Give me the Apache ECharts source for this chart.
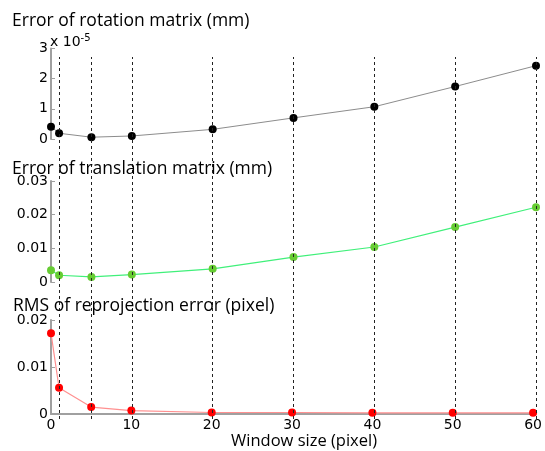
<!DOCTYPE html>
<html>
<head>
<meta charset="utf-8">
<script src="https://cdn.jsdelivr.net/npm/echarts@6/dist/echarts.min.js"></script>
<style>
html,body{margin:0;padding:0;background:#fff;}
#chart{width:545px;height:451px;}
</style>
</head>
<body>
<div id="chart"></div>
<script>
// ---- data ----
var windowSizes = [0, 1, 5, 10, 20, 30, 40, 50, 60];
var rotationErr = [0.41e-5, 0.19e-5, 0.06e-5, 0.10e-5, 0.32e-5, 0.70e-5, 1.07e-5, 1.74e-5, 2.43e-5];
var translationErr = [0.0035, 0.0020, 0.0015, 0.0022, 0.0039, 0.0074, 0.0104, 0.0163, 0.0222];
var rmsReproj = [0.0172, 0.0056, 0.0015, 0.00075, 0.00034, 0.00034, 0.00027, 0.00027, 0.00027];
var guideLinesX = [1, 5, 10, 20, 30, 40, 50, 60];
var panelTitles = ['Error of rotation matrix (mm)', 'Error of translation matrix (mm)', 'RMS of reprojection error (pixel)'];
var xTickLabels = ['0', '10', '20', '30', '40', '50', '60'];
var xAxisName = 'Window size (pixel)';
var rotTicks = ['0', '1', '2', '3'];
var transTicks = ['0', '0.01', '0.02', '0.03'];
var rmsTicks = ['0', '0.01', '0.02'];

function pairs(vals) { return windowSizes.map(function (x, i) { return [x, vals[i]]; }); }

var tickFont = { fontFamily: 'DejaVu Sans', fontSize: 14, color: '#000' };
var axisGray = '#a0a0a0';

function yAxisCfg(gi, max, interval, labels, extra) {
  var cfg = {
    type: 'value', gridIndex: gi, min: 0, max: max, interval: interval,
    axisLine: { show: true, lineStyle: { color: axisGray, width: 2 } },
    axisTick: { show: true, inside: true, length: 4, lineStyle: { color: axisGray } },
    splitLine: { show: false },
    axisLabel: Object.assign({ margin: 3, formatter: function (v) { return labels[Math.round(v / interval)]; } }, tickFont)
  };
  return Object.assign(cfg, extra || {});
}
function xAxisCfg(gi, showAll) {
  return {
    type: 'value', gridIndex: gi, min: 0, max: 60, interval: 10,
    axisLine: { show: showAll, lineStyle: { color: axisGray, width: 2 } },
    axisTick: { show: false },
    splitLine: { show: false },
    axisLabel: Object.assign({ show: showAll, margin: 4, formatter: function (v) { return xTickLabels[v / 10]; } }, tickFont),
    name: showAll ? xAxisName : '',
    nameLocation: 'middle', nameGap: 12,
    nameTextStyle: { fontFamily: 'Open Sans', fontSize: 16.5, color: '#000', padding: [0, 0, 0, 24] }
  };
}

var titleStyle = { fontFamily: 'Open Sans', fontSize: 17.5, fontWeight: 'normal', color: '#000' };

var option = {
  backgroundColor: '#fff',
  animation: false,
  title: [
    { text: panelTitles[0], left: 8, top: 8, textStyle: titleStyle, padding: 4 },
    { text: panelTitles[1], left: 8, top: 156, textStyle: titleStyle, padding: 4 },
    { text: panelTitles[2], left: 9, top: 293, textStyle: titleStyle, padding: 4 }
  ],
  grid: [
    { left: 51, right: 9, top: 48.5, height: 90.5 },
    { left: 51, right: 9, top: 181, height: 101 },
    { left: 51, right: 9, top: 320, height: 99 },
    { left: 51, right: 9, top: 57, height: 362 }
  ],
  xAxis: [xAxisCfg(0, false), xAxisCfg(1, false), xAxisCfg(2, true), xAxisCfg(3, false)],
  yAxis: [
    yAxisCfg(0, 3e-5, 1e-5, rotTicks, {
      name: '{a|x 10}{b|-5}', nameLocation: 'end', nameGap: -2, nameMoveOverlap: false,
      nameTextStyle: { align: 'left', verticalAlign: 'bottom', padding: [0, 0, 0, -1],
        rich: { a: { fontFamily: 'DejaVu Sans', fontSize: 14, color: '#000' },
                b: { fontFamily: 'DejaVu Sans', fontSize: 10, color: '#000', verticalAlign: 'top', padding: [0, 0, 7, 0] } } }
    }),
    yAxisCfg(1, 0.03, 0.01, transTicks),
    yAxisCfg(2, 0.02, 0.01, rmsTicks),
    { type: 'value', gridIndex: 3, min: 0, max: 1, show: false }
  ],
  series: [
    {
      type: 'line', xAxisIndex: 3, yAxisIndex: 3, data: [], z: 1, silent: true,
      markLine: {
        silent: true, symbol: 'none', label: { show: false },
        lineStyle: { type: [3, 3], color: '#222', width: 1 },
        data: guideLinesX.map(function (x) { return { xAxis: x }; })
      }
    },
    {
      type: 'line', xAxisIndex: 0, yAxisIndex: 0, data: pairs(rotationErr), z: 3,
      symbol: 'circle', symbolSize: 8,
      lineStyle: { color: '#8c8c8c', width: 1 },
      itemStyle: { color: '#000' }
    },
    {
      type: 'line', xAxisIndex: 1, yAxisIndex: 1, data: pairs(translationErr), z: 3,
      symbol: 'circle', symbolSize: 8,
      lineStyle: { color: '#40f07a', width: 1.2 },
      itemStyle: { color: '#66cc33' }
    },
    {
      type: 'line', xAxisIndex: 2, yAxisIndex: 2, data: pairs(rmsReproj), z: 3,
      symbol: 'circle', symbolSize: 8,
      lineStyle: { color: '#ff9090', width: 1.2 },
      itemStyle: { color: '#ff0000' }
    }
  ]
};

var chart = echarts.init(document.getElementById('chart'), null, { renderer: 'canvas' });
chart.setOption(option);
</script>
</body>
</html>
